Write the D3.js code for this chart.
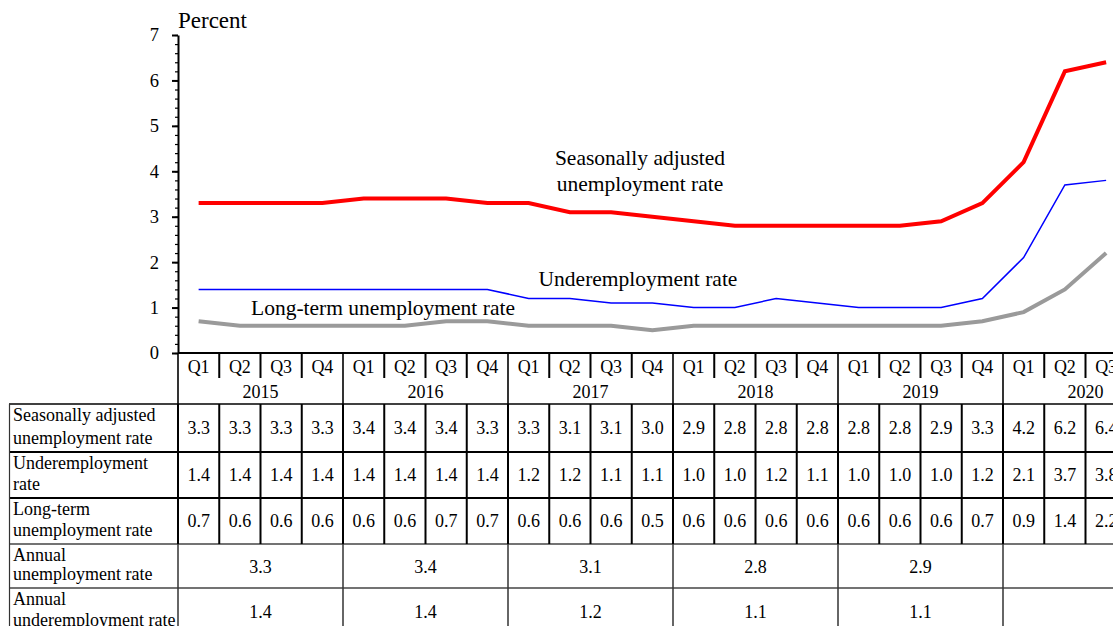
<!DOCTYPE html>
<html>
<head>
<meta charset="utf-8">
<script src="https://cdn.jsdelivr.net/npm/d3@7"></script>
<style>
  html, body { margin: 0; padding: 0; background: #fff; }
  svg { display: block; font-family: "Liberation Serif", "Times New Roman", serif; }
</style>
</head>
<body>
<svg id="chart" width="1113" height="626"></svg>
<script>
// Quarterly data, 2015 Q1 – 2020 Q3
const years = ["2015", "2016", "2017", "2018", "2019", "2020"];
const quarterNames = ["Q1", "Q2", "Q3", "Q4"];
const quarters = [];
years.forEach(y => quarterNames.forEach(q => { if (!(y === "2020" && q === "Q4")) quarters.push(y + " " + q); }));

const unemployment = [3.3, 3.3, 3.3, 3.3, 3.4, 3.4, 3.4, 3.3, 3.3, 3.1, 3.1, 3.0, 2.9, 2.8, 2.8, 2.8, 2.8, 2.8, 2.9, 3.3, 4.2, 6.2, 6.4];
const underemployment = [1.4, 1.4, 1.4, 1.4, 1.4, 1.4, 1.4, 1.4, 1.2, 1.2, 1.1, 1.1, 1.0, 1.0, 1.2, 1.1, 1.0, 1.0, 1.0, 1.2, 2.1, 3.7, 3.8];
const longTerm = [0.7, 0.6, 0.6, 0.6, 0.6, 0.6, 0.7, 0.7, 0.6, 0.6, 0.6, 0.5, 0.6, 0.6, 0.6, 0.6, 0.6, 0.6, 0.6, 0.7, 0.9, 1.4, 2.2];
const annualUnemployment = ["3.3", "3.4", "3.1", "2.8", "2.9", ""];
const annualUnderemployment = ["1.4", "1.4", "1.2", "1.1", "1.1", ""];
const yTicks = [0, 1, 2, 3, 4, 5, 6, 7];

const svg = d3.select("#chart");
const plotLeft = 178, step = 41.25;
const x = d3.scaleBand().domain(quarters).range([plotLeft, plotLeft + step * quarters.length]).paddingInner(0).paddingOuter(0);
const y = d3.scaleLinear().domain([0, 7]).range([353, 35]);
const cx = q => x(q) + x.bandwidth() / 2;
const yearStart = yr => x(yr + " Q1");
const yearEnd = yr => yr === "2020" ? plotLeft + step * 24 : x(yr + " Q4") + x.bandwidth();

// Y axis: major ticks with labels, minor ticks every 0.2
const minor = d3.range(0, 7.001, 0.2).map(v => +v.toFixed(1));
svg.append("g").attr("transform", `translate(${plotLeft},0)`)
  .call(d3.axisLeft(y).tickValues(minor).tickSize(3).tickFormat(""))
  .call(g => g.select(".domain").remove())
  .selectAll("line").attr("stroke", "#000").attr("stroke-width", 1.2);
const yAxis = svg.append("g").attr("transform", `translate(${plotLeft},0)`)
  .call(d3.axisLeft(y).tickValues(yTicks).tickSize(6).tickSizeOuter(0).tickPadding(13).tickFormat(d3.format("d")));
yAxis.select(".domain").attr("stroke", "#000").attr("stroke-width", 2);
yAxis.selectAll("line").attr("stroke", "#000").attr("stroke-width", 2);
yAxis.selectAll("text").attr("font-family", "Liberation Serif").attr("font-size", 18.5).attr("fill", "#000");

svg.append("text").attr("x", plotLeft).attr("y", 28).attr("font-size", 23).text("Percent");

// Series lines
const line = d3.line().x((d, i) => cx(quarters[i])).y(d => y(d));
svg.append("path").datum(longTerm).attr("d", line).attr("fill", "none").attr("stroke", "#9a9a9a").attr("stroke-width", 4);
svg.append("path").datum(underemployment).attr("d", line).attr("fill", "none").attr("stroke", "#0000ff").attr("stroke-width", 1.5);
svg.append("path").datum(unemployment).attr("d", line).attr("fill", "none").attr("stroke", "#ff0000").attr("stroke-width", 4);

// Series annotations
const ann = svg.append("g").attr("font-size", 21.5).attr("text-anchor", "middle");
ann.append("text").attr("x", 640).attr("y", 165).text("Seasonally adjusted");
ann.append("text").attr("x", 640).attr("y", 191).text("unemployment rate");
ann.append("text").attr("x", 638).attr("y", 286).text("Underemployment rate");
ann.append("text").attr("x", 383).attr("y", 315).text("Long-term unemployment rate");

// Category axis: quarter and year rows
const axisY = 353, qRowBottom = 378, yearRowBottom = 404;
const rows = [
  { top: 404, bottom: 452, label: ["Seasonally adjusted", "unemployment rate"], values: unemployment },
  { top: 452, bottom: 498, label: ["Underemployment", "rate"], values: underemployment },
  { top: 498, bottom: 544, label: ["Long-term", "unemployment rate"], values: longTerm },
  { top: 544, bottom: 588, label: ["Annual", "unemployment rate"], annual: annualUnemployment },
  { top: 588, bottom: 634, label: ["Annual", "underemployment rate"], annual: annualUnderemployment }
];

const tbl = svg.append("g").attr("font-size", 18);

// Quarter labels and year labels
tbl.selectAll("text.q").data(quarters).join("text").attr("class", "q")
  .attr("x", cx).attr("y", 373).attr("text-anchor", "middle").text(d => d.split(" ")[1]);
tbl.selectAll("text.yr").data(years).join("text").attr("class", "yr")
  .attr("x", d => (yearStart(d) + yearEnd(d)) / 2).attr("y", 398).attr("text-anchor", "middle").text(d => d);

// Row labels and values
rows.forEach(r => {
  tbl.append("text").attr("x", 13).attr("y", r.top + 17).text(r.label[0]);
  tbl.append("text").attr("x", 13).attr("y", r.bottom - 8).text(r.label[1]);
  if (r.values) {
    tbl.selectAll(null).data(r.values).join("text")
      .attr("x", (d, i) => cx(quarters[i])).attr("y", (r.top + r.bottom) / 2 + 6)
      .attr("text-anchor", "middle").text(d => d.toFixed(1));
  } else {
    tbl.selectAll(null).data(r.annual).join("text")
      .attr("x", (d, i) => (yearStart(years[i]) + yearEnd(years[i])) / 2).attr("y", (r.top + r.bottom) / 2 + 7)
      .attr("text-anchor", "middle").text(d => d);
  }
});

// Grid lines
const grid = svg.append("g");
const W = 1113;
// x axis line
grid.append("line").attr("x1", plotLeft).attr("x2", W).attr("y1", axisY).attr("y2", axisY).attr("stroke", "#000").attr("stroke-width", 2);
// quarter dividers in the quarter-label row
quarters.forEach((q, i) => {
  if (i % 4 === 0) return;
  grid.append("line").attr("x1", x(q)).attr("x2", x(q)).attr("y1", axisY).attr("y2", qRowBottom).attr("stroke", "#000").attr("stroke-width", 2);
});
// year dividers through the year row
years.forEach(yr => {
  grid.append("line").attr("x1", yearStart(yr)).attr("x2", yearStart(yr)).attr("y1", axisY).attr("y2", yearRowBottom).attr("stroke", "#000").attr("stroke-width", 1.6);
});
// horizontal table rules
grid.append("line").attr("x1", 9).attr("x2", W).attr("y1", 404).attr("y2", 404).attr("stroke", "#000").attr("stroke-width", 1.6);
[452, 498].forEach(v => grid.append("line").attr("x1", 9).attr("x2", W).attr("y1", v).attr("y2", v).attr("stroke", "#000").attr("stroke-width", 2));
[544, 588].forEach(v => grid.append("line").attr("x1", 9).attr("x2", W).attr("y1", v).attr("y2", v).attr("stroke", "#444").attr("stroke-width", 1.5));
// quarter cell borders in the three quarterly rows
quarters.forEach((q, i) => {
  grid.append("line").attr("x1", x(q)).attr("x2", x(q)).attr("y1", 404).attr("y2", 544).attr("stroke", "#000").attr("stroke-width", 2);
});
// year borders in the annual rows
years.forEach(yr => {
  grid.append("line").attr("x1", yearStart(yr)).attr("x2", yearStart(yr)).attr("y1", 544).attr("y2", 626).attr("stroke", "#333").attr("stroke-width", 1.5);
});
// left edge of label column
grid.append("line").attr("x1", 9.5).attr("x2", 9.5).attr("y1", 404).attr("y2", 626).attr("stroke", "#333").attr("stroke-width", 1.2);
</script>
</body>
</html>
